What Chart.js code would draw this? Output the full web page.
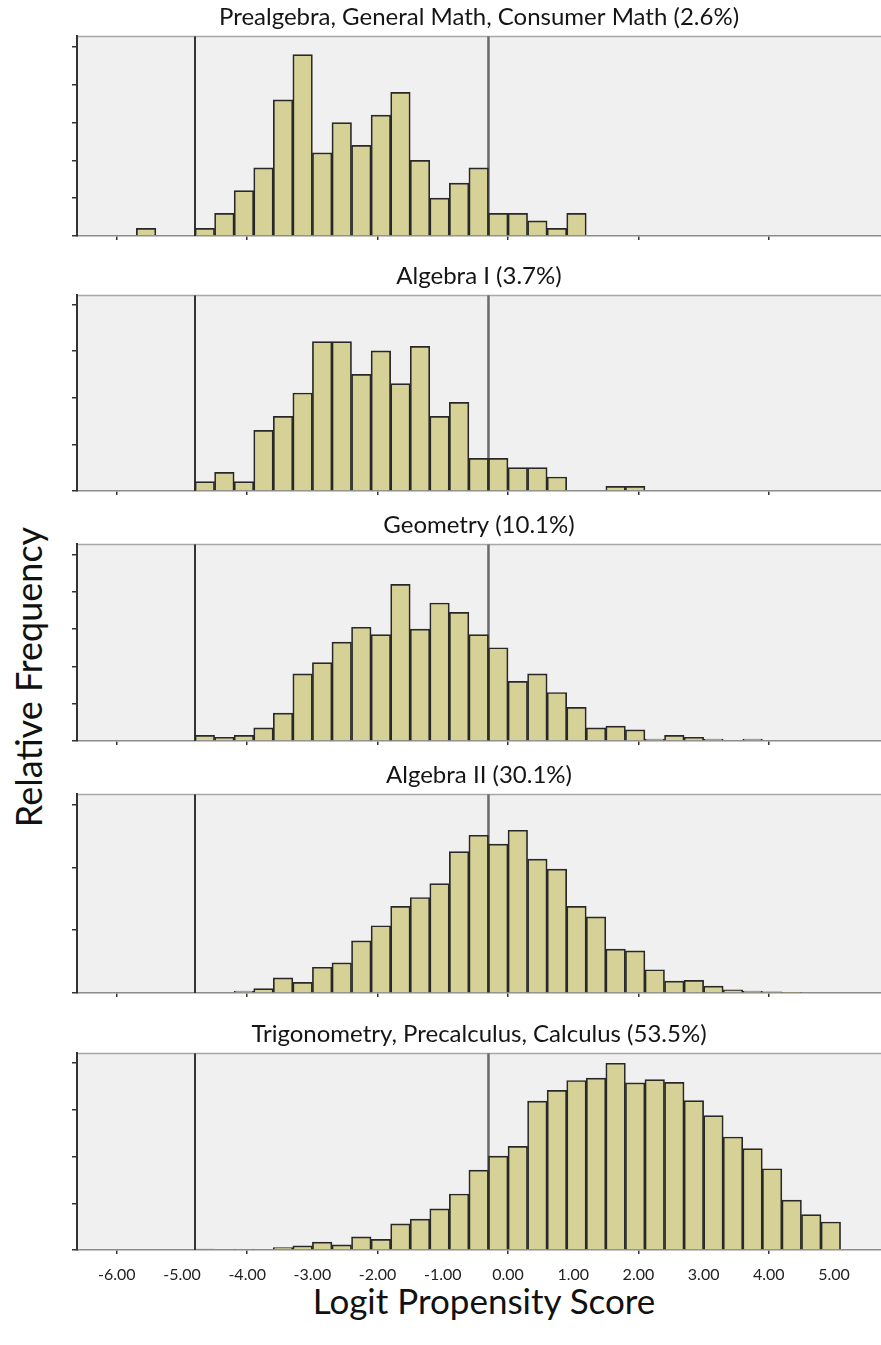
<!DOCTYPE html>
<html>
<head>
<meta charset="utf-8">
<script src="https://cdn.jsdelivr.net/npm/chart.js@4.4.1/dist/chart.umd.min.js"></script>
<style>
  body { margin: 0; background: #fff; width: 881px; height: 1345px; position: relative; overflow: hidden; font-family: Lato, sans-serif; color: #111; }
  canvas { position: absolute; left: 0; }
  .ytitle { position: absolute; left: 28px; top: 677px; transform: translate(-50%, -50%) rotate(-90deg); font-size: 36px; white-space: nowrap; }
  .xtitle { position: absolute; left: 484px; top: 1300px; transform: translate(-50%, -50%); font-size: 35px; white-space: nowrap; }
</style>
</head>
<body>
<div class="ytitle">Relative Frequency</div>
<div class="xtitle">Logit Propensity Score</div>
<script>
// left edges of the 0.3-wide bins
const binEdges = [-5.7, -5.4, -5.1, -4.8, -4.5, -4.2, -3.9, -3.6, -3.3, -3.0, -2.7, -2.4,
  -2.1, -1.8, -1.5, -1.2, -0.9, -0.6, -0.3, 0.0, 0.3, 0.6, 0.9, 1.2,
  1.5, 1.8, 2.1, 2.4, 2.7, 3.0, 3.3, 3.6, 3.9, 4.2, 4.5, 4.8];
const binWidth = 0.3;

const courseTitles = [
  'Prealgebra, General Math, Consumer Math (2.6%)',
  'Algebra I (3.7%)',
  'Geometry (10.1%)',
  'Algebra II (30.1%)',
  'Trigonometry, Precalculus, Calculus (53.5%)'
];

const prealgebraCounts = [1, 0, 0, 1, 3, 6, 9, 18, 24, 11, 15, 12, 16, 19, 10, 5, 7, 9,
  3, 3, 2, 1, 3, 0, 0, 0, 0, 0, 0, 0, 0, 0, 0, 0, 0, 0];
const algebra1Counts = [0, 0, 0, 2, 4, 2, 13, 16, 21, 32, 32, 25, 30, 23, 31, 16, 19, 7,
  7, 5, 5, 3, 0, 0, 1, 1, 0, 0, 0, 0, 0, 0, 0, 0, 0, 0];
const geometryCounts = [0, 0, 0, 3, 2, 3, 7, 15, 36, 42, 53, 61, 57, 84, 60, 74, 69, 57,
  50, 32, 36, 26, 18, 7, 8, 6, 1, 3, 2, 1, 0, 1, 0, 0, 0, 0];
const algebra2Counts = [0, 0, 0, 0, 0, 3, 7, 24, 17, 41, 48, 83, 107, 138, 152, 174, 225, 251,
  237, 259, 213, 197, 138, 121, 70, 67, 37, 19, 20, 11, 5, 3, 2, 1, 0, 0];
const calculusCounts = [0, 0, 0, 2, 0, 1, 0, 5, 9, 17, 11, 28, 23, 56, 66, 88, 120, 171,
  201, 222, 319, 342, 363, 368, 400, 358, 365, 359, 320, 288, 242, 217, 174, 107, 76, 60];

const seriesCounts = [prealgebraCounts, algebra1Counts, geometryCounts, algebra2Counts, calculusCounts];
const yMaxes = [26.4, 41.9, 105.4, 316, 421];
const ySteps = [5, 10, 20, 100, 100];

const xMin = -6.61, xMax = 5.72;
const panelTicks = [-6, -4, -2, 0, 2, 4];
const bottomTicks = [-6, -5, -4, -3, -2, -1, 0, 1, 2, 3, 4, 5];
const cutoffs = [-4.8, -0.3];

// canvas placement for each panel
const boxes = [
  { top: 3, height: 243, pad: 6 },
  { top: 262, height: 239, pad: 6 },
  { top: 511, height: 240, pad: 6 },
  { top: 761, height: 242, pad: 6 },
  { top: 1020, height: 279, pad: 3.8 }
];

Chart.defaults.font.family = 'Lato';

const panelFrame = {
  id: 'panelFrame',
  beforeDraw(chart) {
    const { ctx, chartArea: a } = chart;
    ctx.save();
    ctx.fillStyle = '#f0f0f0';
    ctx.fillRect(a.left, a.top, a.right - a.left, a.bottom - a.top);
    ctx.strokeStyle = '#a8a8a8';
    ctx.lineWidth = 1.5;
    ctx.beginPath();
    ctx.moveTo(a.left, a.top);
    ctx.lineTo(a.right, a.top);
    ctx.stroke();
    ctx.restore();
  },
  beforeDatasetsDraw(chart) {
    const { ctx, chartArea: a, scales } = chart;
    ctx.save();
    cutoffs.forEach((v, i) => {
      const px = scales.x.getPixelForValue(v);
      ctx.strokeStyle = i === 0 ? '#333' : '#6a6a6a';
      ctx.lineWidth = i === 0 ? 2 : 2.5;
      ctx.beginPath();
      ctx.moveTo(px, a.top);
      ctx.lineTo(px, a.bottom);
      ctx.stroke();
    });
    ctx.restore();
  }
};

const titleSize = 24;

seriesCounts.forEach((counts, p) => {
  const last = p === seriesCounts.length - 1;
  const box = boxes[p];
  const canvas = document.createElement('canvas');
  canvas.width = 881;
  canvas.height = box.height;
  canvas.style.top = box.top + 'px';
  document.body.appendChild(canvas);

  const points = binEdges
    .map((e, i) => ({ x: e + binWidth / 2, y: counts[i] }))
    .filter(pt => pt.y > 0);

  new Chart(canvas, {
    type: 'bar',
    data: {
      datasets: [{
        data: points,
        backgroundColor: '#d6d197',
        borderColor: '#282828',
        borderWidth: 1.7,
        borderSkipped: 'bottom',
        categoryPercentage: 1,
        barPercentage: 1
      }]
    },
    options: {
      responsive: false,
      animation: false,
      layout: { padding: { left: 72, right: 0, top: 0, bottom: box.pad } },
      plugins: {
        legend: { display: false },
        tooltip: { enabled: false },
        title: {
          display: true,
          text: courseTitles[p],
          fullSize: false,
          color: '#151515',
          font: { size: titleSize, weight: 'normal' },
          padding: { top: 0, bottom: 33.4 - 1.2 * titleSize }
        }
      },
      scales: {
        x: {
          type: 'linear',
          min: xMin,
          max: xMax,
          offset: false,
          afterBuildTicks: s => { s.ticks = (last ? bottomTicks : panelTicks).map(v => ({ value: v })); },
          ticks: {
            display: last,
            maxRotation: 0,
            autoSkip: false,
            padding: 11,
            color: '#222',
            font: { size: 16 },
            callback: v => Number(v).toFixed(2)
          },
          grid: {
            offset: false,
            drawOnChartArea: false,
            tickLength: 4,
            lineWidth: 1.5,
            tickColor: c => (c.tick && c.tick.value % 2 === 0 ? '#333' : 'rgba(0,0,0,0)')
          },
          border: { color: '#8c8c8c', width: 1.5 }
        },
        y: {
          min: 0,
          max: yMaxes[p],
          ticks: { display: false, stepSize: ySteps[p], includeBounds: false },
          grid: { drawOnChartArea: false, tickLength: 5, lineWidth: 1.5, tickColor: '#333' },
          border: { color: '#333', width: 2 }
        }
      }
    },
    plugins: [panelFrame]
  });
});
</script>
</body>
</html>
